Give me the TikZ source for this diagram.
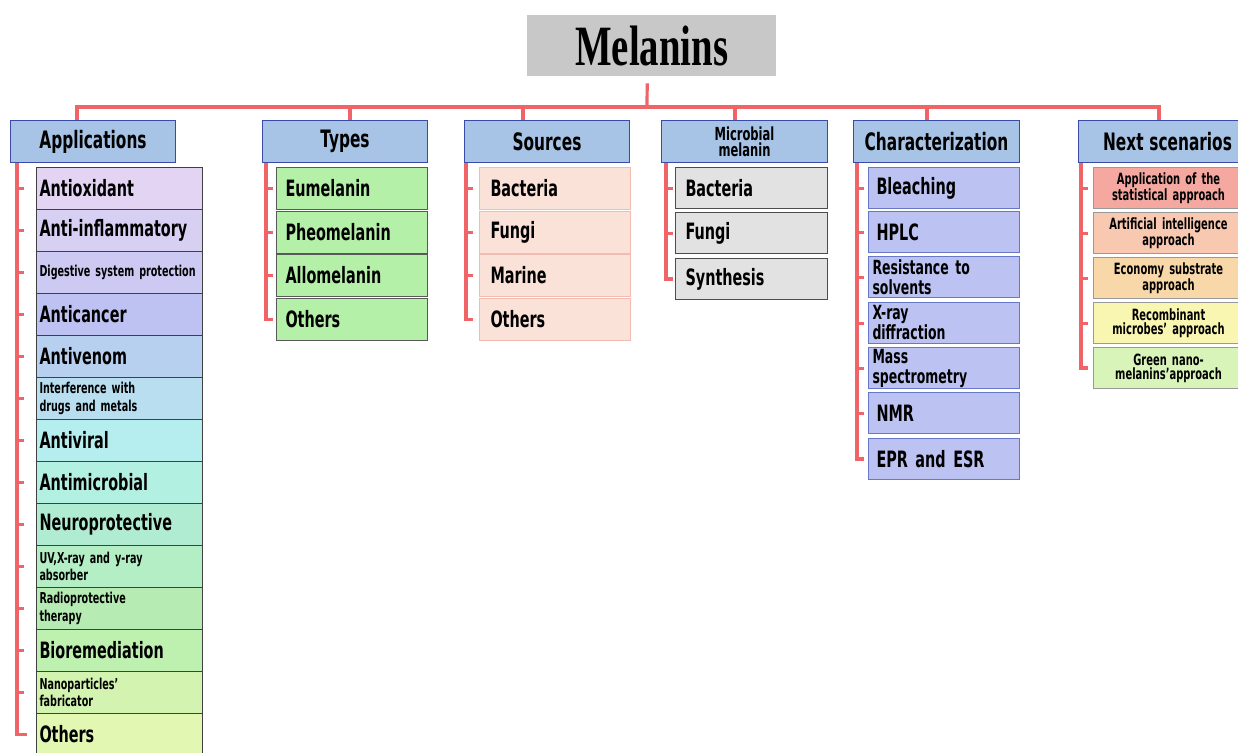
\documentclass[tikz,border=0pt]{standalone}
\usepackage{fontspec}
\newfontfamily\lbl{DejaVu Sans}[FakeStretch=0.64]
\newfontfamily\ttl{Liberation Serif}[FakeStretch=0.68]
\newcommand\tightsp{\spaceskip=0.24em plus 0.04em minus 0.02em\relax}
\newcommand\fhdr{\lbl\bfseries\fontsize{24}{26}\selectfont\tightsp}
\newcommand\fbig{\lbl\bfseries\fontsize{22.5}{24}\selectfont\tightsp}
\newcommand\fsml{\lbl\bfseries\fontsize{15}{17.5}\selectfont\tightsp}
\newcommand\fchr{\lbl\bfseries\fontsize{19.5}{20}\selectfont\tightsp}
\newcommand\fnxt{\lbl\bfseries\fontsize{15.5}{14}\selectfont\tightsp}
\newcommand\fmic{\lbl\bfseries\fontsize{18}{16}\selectfont\tightsp}
\definecolor{conn}{HTML}{F06468}
\definecolor{hdrfill}{HTML}{A7C3E5}
\definecolor{hdrline}{HTML}{3A4AA8}
\definecolor{melfill}{HTML}{C8C8C8}
\definecolor{ca1}{HTML}{E2D4F2}
\definecolor{ca2}{HTML}{D8D0F2}
\definecolor{ca3}{HTML}{CCCAF2}
\definecolor{ca4}{HTML}{BEC2F2}
\definecolor{ca5}{HTML}{B8D0F0}
\definecolor{ca6}{HTML}{B8DEF0}
\definecolor{ca7}{HTML}{B6EEF0}
\definecolor{ca8}{HTML}{B2F0E2}
\definecolor{ca9}{HTML}{B0ECD2}
\definecolor{ca10}{HTML}{B4EEC4}
\definecolor{ca11}{HTML}{B6ECB4}
\definecolor{ca12}{HTML}{BEF0B0}
\definecolor{ca13}{HTML}{D2F4B0}
\definecolor{ca14}{HTML}{E2F8B2}
\definecolor{typfill}{HTML}{B4F0A8}
\definecolor{srcfill}{HTML}{FAE2D8}
\definecolor{srcline}{HTML}{F2BCB2}
\definecolor{micfill}{HTML}{E2E2E2}
\definecolor{chrfill}{HTML}{BCC3F3}
\definecolor{chrline}{HTML}{6878C8}
\definecolor{cn1}{HTML}{F4A8A0}
\definecolor{cn2}{HTML}{F8C8B0}
\definecolor{cn3}{HTML}{F8D8A8}
\definecolor{cn4}{HTML}{F8F6B0}
\definecolor{cn5}{HTML}{D8F4B8}
\begin{document}
\begin{tikzpicture}[x=1pt,y=-1pt,
  link/.style={draw=conn, line width=3.2pt},
  tick/.style={draw=conn, line width=3pt},
  hdr/.style={draw=hdrline, fill=hdrfill, line width=1pt, anchor=north west,
    minimum height=42pt, inner sep=0pt, font=\fhdr},
  itembox/.style={line width=1pt, anchor=north west, inner ysep=0pt, align=left},
  appbox/.style={itembox, draw=black!75, minimum height=42pt, inner xsep=3pt, text width=160pt, font=\fbig},
  typbox/.style={itembox, draw=black!65, fill=typfill, minimum height=42pt, inner xsep=9pt, text width=133pt, font=\fbig},
  srcbox/.style={itembox, draw=srcline, fill=srcfill, minimum height=42pt, inner xsep=11pt, text width=129pt, font=\fbig},
  micbox/.style={itembox, draw=black!70, fill=micfill, minimum height=41pt, inner xsep=10pt, text width=132pt, font=\fbig},
  chrbox/.style={itembox, draw=chrline, fill=chrfill, minimum height=41pt, inner xsep=4pt, text width=143pt, font=\fchr},
  nxtbox/.style={itembox, draw=black!40, minimum height=41pt, inner xsep=2pt, text width=146pt, align=center, font=\fnxt}
]
\useasboundingbox (0,0) rectangle (1238,752);
\clip (0,0) rectangle (1238,752);
\fill[white] (0,0) rectangle (1238,752);

% root
\node[fill=melfill, anchor=north west, minimum width=249pt, minimum height=61pt, inner sep=0pt,
  font=\ttl\bfseries\fontsize{57}{60}\selectfont] (mel) at (527,15) {Melanins};

% headers
\node[hdr, minimum width=165pt] (hApp) at (10,120) {Applications};
\node[hdr, minimum width=165pt] (hTyp) at (262,120) {Types};
\node[hdr, minimum width=165pt] (hSrc) at (464,120) {Sources};
\node[hdr, minimum width=166pt, font=\fmic, align=center] (hMic) at (661,120) {Microbial\\melanin};
\node[hdr, minimum width=166pt] (hChr) at (853,120) {Characterization};
\node[hdr, minimum width=178pt] (hNxt) at (1078,120) {Next scenarios};

% Applications
\node[appbox, fill=ca1] (a1) at (36,167) {Antioxidant};
\node[appbox, fill=ca2] (a2) at (36,209) {Anti-inflammatory};
\node[appbox, fill=ca3, font=\fsml] (a3) at (36,251) {Digestive system protection};
\node[appbox, fill=ca4] (a4) at (36,293) {Anticancer};
\node[appbox, fill=ca5] (a5) at (36,335) {Antivenom};
\node[appbox, fill=ca6, font=\fsml] (a6) at (36,377) {Interference with\\drugs and metals};
\node[appbox, fill=ca7] (a7) at (36,419) {Antiviral};
\node[appbox, fill=ca8] (a8) at (36,461) {Antimicrobial};
\node[appbox, fill=ca9] (a9) at (36,503) {Neuroprotective};
\node[appbox, fill=ca10, font=\fsml] (a10) at (36,545) {UV,X-ray and y-ray\\absorber};
\node[appbox, fill=ca11, font=\fsml] (a11) at (36,587) {Radioprotective\\therapy};
\node[appbox, fill=ca12] (a12) at (36,629) {Bioremediation};
\node[appbox, fill=ca13, font=\fsml] (a13) at (36,671) {Nanoparticles’\\fabricator};
\node[appbox, fill=ca14] (a14) at (36,713) {Others};

% Types
\node[typbox] (t1) at (276,167) {Eumelanin};
\node[typbox] (t2) at (276,211) {Pheomelanin};
\node[typbox] (t3) at (276,254) {Allomelanin};
\node[typbox] (t4) at (276,298) {Others};

% Sources
\node[srcbox] (s1) at (479,167) {Bacteria};
\node[srcbox] (s2) at (479,211) {Fungi};
\node[srcbox] (s3) at (479,254) {Marine};
\node[srcbox] (s4) at (479,298) {Others};

% Microbial melanin
\node[micbox] (m1) at (675,167) {Bacteria};
\node[micbox] (m2) at (675,212) {Fungi};
\node[micbox] (m3) at (675,258) {Synthesis};

% Characterization
\node[chrbox, font=\fbig] (c1) at (868,167) {\hspace*{4pt}Bleaching};
\node[chrbox, font=\fbig] (c2) at (868,211) {\hspace*{4pt}HPLC};
\node[chrbox] (c3) at (868,256) {Resistance to\\solvents};
\node[chrbox] (c4) at (868,302) {X-ray\\diffraction};
\node[chrbox] (c5) at (868,347) {Mass\\spectrometry};
\node[chrbox, font=\fbig] (c6) at (868,392) {\hspace*{4pt}NMR};
\node[chrbox, font=\fbig] (c7) at (868,438) {\hspace*{4pt}EPR and ESR};

% Next scenarios
\node[nxtbox, fill=cn1] (n1) at (1093,167) {Application of the\\statistical approach};
\node[nxtbox, fill=cn2] (n2) at (1093,212) {Artificial intelligence\\approach};
\node[nxtbox, fill=cn3] (n3) at (1093,257) {Economy substrate\\approach};
\node[nxtbox, fill=cn4] (n4) at (1093,302) {Recombinant\\microbes’ approach};
\node[nxtbox, fill=cn5] (n5) at (1093,347) {Green nano-\\melanins’approach};

% trunk and bus
\coordinate (bus) at (647,107);
\coordinate (dApp) at (77,107);
\coordinate (dTyp) at (350,107);
\coordinate (dSrc) at (523,107);
\coordinate (dMic) at (735,107);
\coordinate (dChr) at (927,107);
\coordinate (dNxt) at (1159,107);
\draw[link] ([xshift=-4.5pt,yshift=-7pt]mel.south) -- (bus);
\draw[link] (dApp) -- (dNxt);
\foreach \d/\h in {dApp/hApp,dTyp/hTyp,dSrc/hSrc,dMic/hMic,dChr/hChr,dNxt/hNxt}
  \draw[link] ([yshift=1.6pt]\d) -- (\d |- \h.north);

% spines
\draw[link] (17,0 |- hApp.south) |- ([xshift=-9pt]a14.west);
\foreach \i in {1,...,13} \draw[tick] (17,0 |- a\i.west) -- ([xshift=-12pt]a\i.west);
\draw[link] (266,0 |- hTyp.south) |- ([xshift=-3pt]t4.west);
\foreach \i in {1,2,3} \draw[tick] (266,0 |- t\i.west) -- ([xshift=-3pt]t\i.west);
\draw[link] (466,0 |- hSrc.south) |- ([xshift=-6pt]s4.west);
\foreach \i in {1,2,3} \draw[tick] (466,0 |- s\i.west) -- ([xshift=-6pt]s\i.west);
\draw[link] (666,0 |- hMic.south) |- ([xshift=-2pt]m3.west);
\foreach \i in {1,2} \draw[tick] (666,0 |- m\i.west) -- ([xshift=-2pt]m\i.west);
\draw[link] (857,0 |- hChr.south) |- ([xshift=-4pt]c7.west);
\foreach \i in {1,...,6} \draw[tick] (857,0 |- c\i.west) -- ([xshift=-4pt]c\i.west);
\draw[link] (1081,0 |- hNxt.south) |- ([xshift=-5pt]n5.west);
\foreach \i in {1,...,4} \draw[tick] (1081,0 |- n\i.west) -- ([xshift=-5pt]n\i.west);
\end{tikzpicture}
\end{document}
